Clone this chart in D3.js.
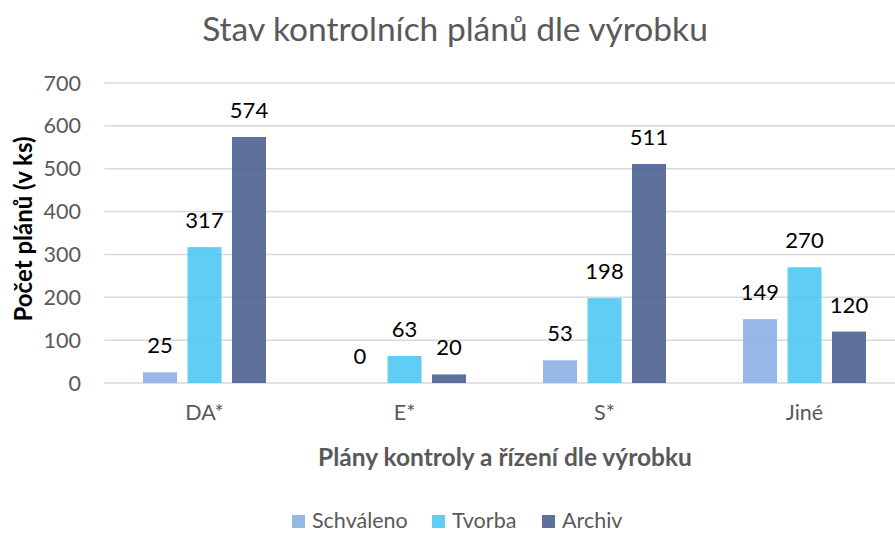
<!DOCTYPE html>
<html>
<head>
<meta charset="utf-8">
<script src="https://cdn.jsdelivr.net/npm/d3@7"></script>
<style>
  body { margin: 0; background: #fff; }
  text { font-family: Lato, "Open Sans", sans-serif; }
</style>
</head>
<body>
<div id="chart"></div>
<script>
// chart data
const categories = ["DA*", "E*", "S*", "Jiné"];
const seriesNames = ["Schváleno", "Tvorba", "Archiv"];
const schvaleno = [25, 0, 53, 149];
const tvorba = [317, 63, 198, 270];
const archiv = [574, 20, 511, 120];
const yTicks = [0, 100, 200, 300, 400, 500, 600, 700];
const colors = ["#8cb0e4", "#4ec8f3", "#4d6292"];

const seriesValues = [schvaleno, tvorba, archiv];
const rows = categories.map((c, i) => ({
    category: c,
    values: seriesNames.map((s, j) => ({series: s, value: seriesValues[j][i]}))
}));

const width = 895, height = 533;
const svg = d3.select("#chart")
    .append("svg")
    .attr("width", width)
    .attr("height", height);

// x scales: groups, then bars inside group
const x0 = d3.scaleBand()
    .domain(categories)
    .range([104.5, 904.5]);
const x1 = d3.scaleBand()
    .domain(seriesNames)
    .range([38.5, 161.5])
    .paddingInner(0.236);

const y = d3.scaleLinear()
    .domain([0, 700])
    .range([383, 83]);

// gridlines
svg.append("g")
    .selectAll("line")
    .data(yTicks)
    .join("line")
      .attr("x1", 104.5)
      .attr("x2", width)
      .attr("y1", d => y(d))
      .attr("y2", d => y(d))
      .attr("stroke", "#d9d9d9")
      .attr("stroke-width", 1.5);

// y tick labels
svg.append("g")
    .selectAll("text")
    .data(yTicks)
    .join("text")
      .attr("x", 81)
      .attr("y", d => y(d) + 7.5)
      .attr("text-anchor", "end")
      .attr("fill", "#595959")
      .style("font-size", "21.5px")
      .text(d => d);

// bars
const groups = svg.append("g")
    .selectAll("g")
    .data(rows)
    .join("g")
      .attr("transform", d => `translate(${x0(d.category)}, 0)`);

groups.selectAll("rect")
    .data(d => d.values)
    .join("rect")
      .attr("x", d => x1(d.series))
      .attr("y", d => y(d.value))
      .attr("width", x1.bandwidth())
      .attr("height", d => y(0) - y(d.value))
      .attr("fill", (d, i) => colors[i])
      .style("opacity", 0.9);

// data labels
groups.selectAll("text")
    .data(d => d.values)
    .join("text")
      .attr("x", d => x1(d.series) + x1.bandwidth() / 2)
      .attr("y", d => y(d.value) - 19)
      .attr("text-anchor", "middle")
      .attr("fill", "#000")
      .style("font-size", "22px")
      .text(d => d.value);

// x tick labels
svg.append("g")
    .selectAll("text")
    .data(categories)
    .join("text")
      .attr("x", d => x0(d) + x0.bandwidth() / 2)
      .attr("y", 420)
      .attr("text-anchor", "middle")
      .attr("fill", "#595959")
      .style("font-size", "21.5px")
      .text(d => d);

// title
svg.append("text")
    .attr("x", 455)
    .attr("y", 41)
    .attr("text-anchor", "middle")
    .attr("fill", "#595959")
    .style("font-size", "33.5px")
    .text("Stav kontrolních plánů dle výrobku");

// x axis title
svg.append("text")
    .attr("x", 505)
    .attr("y", 466)
    .attr("text-anchor", "middle")
    .attr("fill", "#595959")
    .style("font-size", "24.5px")
    .style("font-weight", "bold")
    .text("Plány kontroly a řízení dle výrobku");

// y axis title
svg.append("text")
    .attr("transform", "translate(32, 229) rotate(-90)")
    .attr("text-anchor", "middle")
    .attr("fill", "#000")
    .style("font-size", "24px")
    .style("font-weight", "bold")
    .text("Počet plánů (v ks)");

// legend
const legendX = [292, 432, 542];
const legend = svg.append("g")
    .selectAll("g")
    .data(seriesNames)
    .join("g")
      .attr("transform", (d, i) => `translate(${legendX[i]}, 515)`);
legend.append("rect")
    .attr("width", 13)
    .attr("height", 13)
    .attr("fill", (d, i) => colors[i])
    .style("opacity", 0.9);
legend.append("text")
    .attr("x", 20)
    .attr("y", 13)
    .attr("fill", "#595959")
    .style("font-size", "21.5px")
    .text(d => d);
</script>
</body>
</html>
